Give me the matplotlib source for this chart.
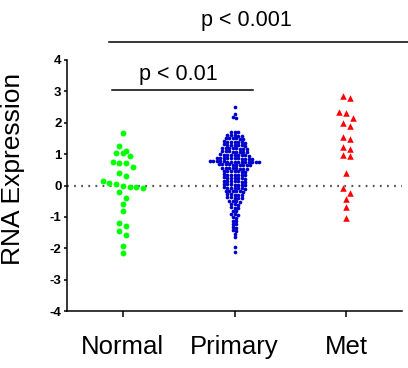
import numpy as np
import matplotlib.pyplot as plt

plt.rcParams['font.family'] = ['Liberation Sans', 'DejaVu Sans']
plt.rcParams['axes.unicode_minus'] = False

groups = ['Normal', 'Primary', 'Met']

normal = [1.68, 1.27, 1.04, 0.95, 1.03, 1.10, 0.76, 0.71, 0.71, 0.60, 0.39, 0.30,
          0.09, 0.13, -0.02, -0.06, -0.08, -0.04, 0.05, -0.21, -0.40, -0.59, -0.81,
          -1.18, -1.29, -1.44, -1.59, -1.93, -2.16]

primary = [2.51, 2.28, 2.19, 2.14,
           1.72, 1.70, 1.71,
           1.61, 1.60, 1.59, 1.62, 1.58,
           1.51, 1.50, 1.49, 1.52, 1.48, 1.50,
           1.40, 1.39, 1.38, 1.41, 1.37, 1.39, 1.40,
           1.30, 1.29, 1.28, 1.31, 1.27, 1.29, 1.30,
           1.19, 1.18, 1.17, 1.20, 1.16, 1.18, 1.19, 1.17,
           1.09, 1.08, 1.07, 1.10, 1.06, 1.08, 1.09, 1.07,
           0.98, 0.97, 0.96, 0.99, 0.95, 0.97, 0.98, 0.96, 0.97,
           0.88, 0.87, 0.86, 0.89, 0.85, 0.87, 0.88, 0.86, 0.87, 0.88, 0.86,
           0.77, 0.76, 0.75, 0.78, 0.74, 0.76, 0.77, 0.75, 0.76, 0.77, 0.75, 0.76, 0.77, 0.75, 0.76,
           0.67, 0.66, 0.65, 0.68, 0.64, 0.66, 0.67, 0.65, 0.66, 0.67,
           0.56, 0.55, 0.54, 0.57, 0.53, 0.55, 0.56, 0.54,
           0.46, 0.45, 0.44, 0.47, 0.43, 0.45, 0.46,
           0.35, 0.34, 0.33, 0.36, 0.32, 0.34, 0.35,
           0.25, 0.24, 0.23, 0.26, 0.22, 0.24, 0.25,
           0.14, 0.13, 0.12, 0.15, 0.11, 0.13, 0.14,
           0.04, 0.03, 0.02, 0.05, 0.01, 0.03, 0.04,
           -0.07, -0.08, -0.09, -0.06, -0.10, -0.08, -0.07,
           -0.17, -0.18, -0.19, -0.16, -0.20, -0.18,
           -0.28, -0.29, -0.30, -0.27, -0.31,
           -0.38, -0.39, -0.40, -0.37, -0.41,
           -0.49, -0.50, -0.51, -0.48,
           -0.59, -0.60, -0.61,
           -0.70, -0.71, -0.72,
           -0.80, -0.82,
           -0.91, -0.92, -0.93,
           -1.01, -1.03,
           -1.12, -1.14,
           -1.22, -1.24,
           -1.33, -1.35,
           -1.43, -1.45,
           -1.55, -1.65, -1.95, -2.11]

met = [2.85, 2.80, 2.33, 2.31, 2.16, 2.00, 1.90, 1.48, 1.55, 1.15, 1.24, 0.94,
       0.97, 0.39, -0.09, -0.25, -0.44, -0.67, -1.03]


def swarm_x(values, center, row_h, step):
    # group sorted values into rows, spread each row sideways
    order = np.argsort(values)[::-1]
    vals = np.asarray(values)
    xs = np.zeros(len(vals))
    rows = []
    for idx in order:
        if rows and vals[rows[-1][0]] - vals[idx] <= row_h:
            rows[-1].append(idx)
        else:
            rows.append([idx])
    for row in rows:
        n = len(row)
        for i, idx in enumerate(row):
            xs[idx] = center + (i - (n - 1) / 2) * step
    return xs


fig = plt.figure(figsize=(4.08, 3.68), dpi=100)
ax = fig.add_axes([67 / 408, 57 / 368, 335 / 408, 251 / 368])

ax.axhline(0, color='#555555', ls=(0, (0.8, 2.4)), lw=1.6, zorder=0)

ax.scatter(swarm_x(normal, 0, 0.22, 0.06), normal, s=18, color='#00ff00', lw=0, zorder=3)
ax.scatter(swarm_x(primary, 1, 0.06, 0.0315), primary, s=7, color='#0000cc', lw=0, zorder=3)
ax.scatter(swarm_x(met, 2, 0.2, 0.06), met, s=22, marker='^', color='#ff0000', lw=0, zorder=3)

ax.set_xlim(-0.5, 2.5)
ax.set_ylim(-4, 4)
ax.set_yticks(range(-4, 5))
ax.set_xticks([0, 1, 2])
ax.set_xticklabels(groups, fontsize=18.5)
for lab in ax.get_yticklabels():
    lab.set_fontweight('bold')
    lab.set_fontsize(9.5)
ax.tick_params(axis='y', length=2.5, width=1.1, pad=1.5)
ax.tick_params(axis='x', length=4, width=1.1, pad=13)
for side in ['top', 'right']:
    ax.spines[side].set_visible(False)
for side in ['left', 'bottom']:
    ax.spines[side].set_linewidth(1.1)

fig.text(13 / 408, 1 - 168.5 / 368, 'RNA Expression', rotation=90,
         ha='center', va='center', fontsize=19)

# significance bars
ax.plot([-0.1, 1.17], [3.04, 3.04], color='black', lw=1.1, clip_on=False)
ax.text(0.5, 3.55, 'p < 0.01', ha='center', va='center', fontsize=15.5)
ax.plot([-0.12, 2.6], [4.57, 4.57], color='black', lw=1.1, clip_on=False)
ax.text(1.11, 5.27, 'p < 0.001', ha='center', va='center', fontsize=15.5, clip_on=False)

fig.savefig('out.png', dpi=100)
